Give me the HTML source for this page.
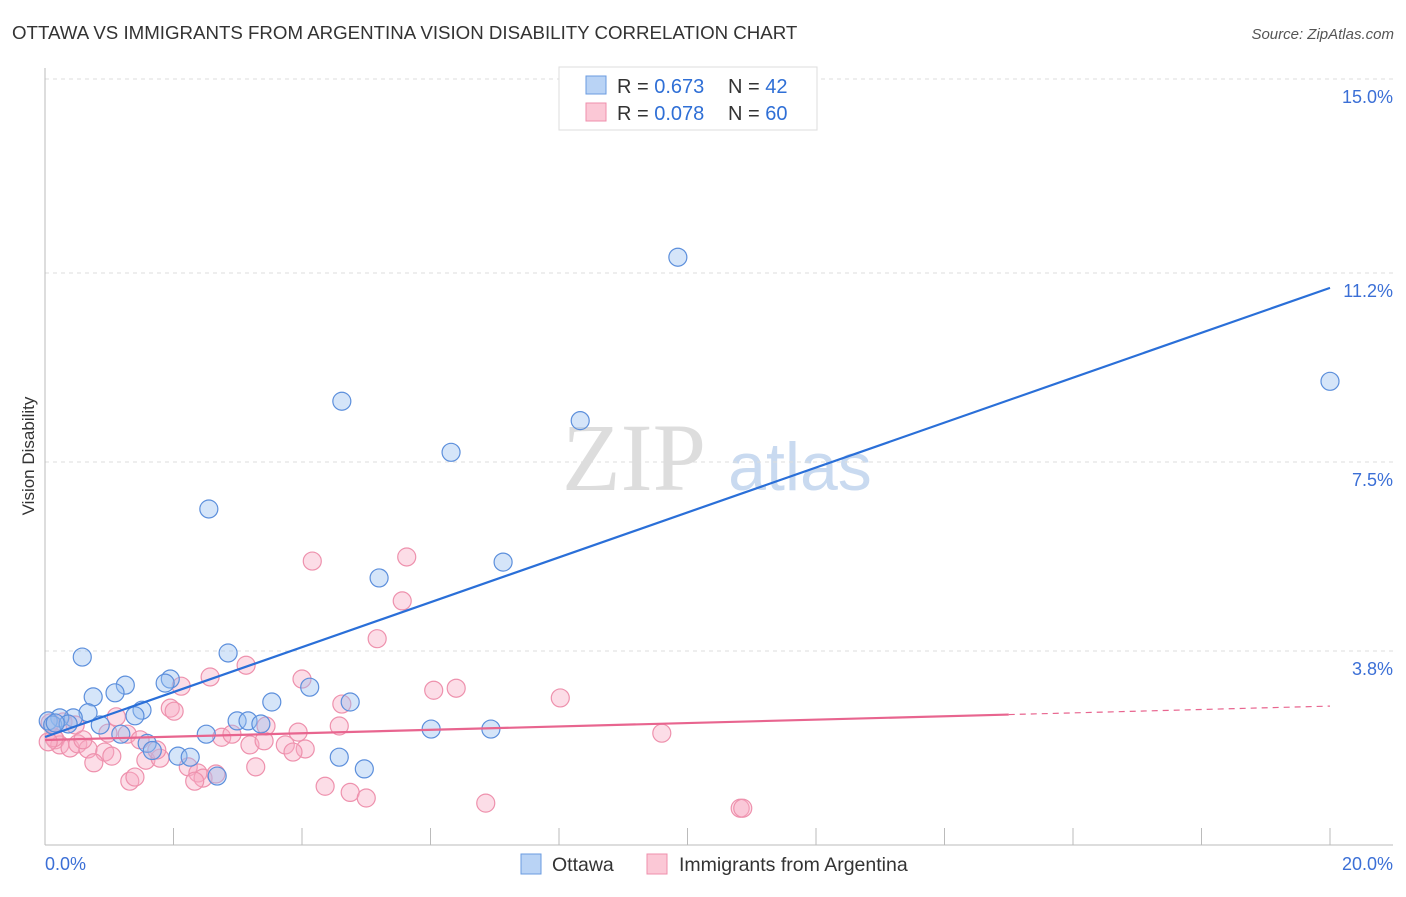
<!DOCTYPE html>
<html><head><meta charset="utf-8"><style>
body{margin:0;background:#fff;font-family:"Liberation Sans",sans-serif;}
svg text{font-family:"Liberation Sans",sans-serif;}
</style></head><body>
<svg width="1406" height="892" viewBox="0 0 1406 892">
<text x="12" y="39" font-size="18.7" fill="#333">OTTAWA VS IMMIGRANTS FROM ARGENTINA VISION DISABILITY CORRELATION CHART</text>
<text x="1394" y="39" font-size="15" fill="#555" font-style="italic" text-anchor="end">Source: ZipAtlas.com</text>
<text x="34" y="456" font-size="17" fill="#333" text-anchor="middle" transform="rotate(-90 34 456)">Vision Disability</text>
<text x="634" y="490" font-size="96" fill="#ddd" style="font-family:'Liberation Serif',serif" text-anchor="middle">ZIP</text>
<text x="800" y="490" font-size="68" fill="#c9daf0" text-anchor="middle">atlas</text>
<g id="grid"></g>
<g id="axes"></g>
<g id="pts"></g>
<g id="lines"></g>
<g>
<rect x="559" y="67" width="258" height="63" fill="#fff" stroke="#ddd"/>
<rect x="586" y="76" width="20" height="18" fill="#b9d3f5" stroke="#6a9be0"/>
<rect x="586" y="103" width="20" height="18" fill="#fbc8d6" stroke="#ef8fac"/>
<text x="617" y="93" font-size="20" fill="#333">R = <tspan fill="#2f6fd6">0.673</tspan></text>
<text x="728" y="93" font-size="20" fill="#333">N = <tspan fill="#2f6fd6">42</tspan></text>
<text x="617" y="120" font-size="20" fill="#333">R = <tspan fill="#2f6fd6">0.078</tspan></text>
<text x="728" y="120" font-size="20" fill="#333">N = <tspan fill="#2f6fd6">60</tspan></text>
</g>
<g>
<rect x="521" y="854" width="20" height="20" fill="#b9d3f5" stroke="#6a9be0"/>
<text x="552" y="871" font-size="19.5" fill="#333">Ottawa</text>
<rect x="647" y="854" width="20" height="20" fill="#fbc8d6" stroke="#ef8fac"/>
<text x="679" y="871" font-size="19.5" fill="#333">Immigrants from Argentina</text>
</g>
</svg>
<script>
const yTicks=[15.0,11.2,7.5,3.8];
const yTickLabels=["15.0%","11.2%","7.5%","3.8%"];
const xTickLabels=["0.0%","20.0%"];
const ottawaX=[9.85,20,4.62,6.32,8.33,2.55,5.2,7.13,0.58,2.85,1.25,1.95,1.87,0.75,1.09,4.12,3.53,4.75,1.51,0.67,0.44,0.23,0.05,0.12,0.36,0.86,1.18,2.51,2.99,3.16,3.36,6.01,6.94,1.59,1.67,2.07,2.26,4.58,4.97,2.68,0.16,1.4];
const ottawaY=[11.51,9.08,8.69,7.69,8.31,6.58,5.23,5.54,3.68,3.76,3.13,3.25,3.17,2.9,2.98,3.09,2.8,2.8,2.64,2.59,2.49,2.49,2.43,2.35,2.37,2.35,2.17,2.17,2.43,2.43,2.37,2.27,2.27,1.99,1.85,1.74,1.72,1.72,1.49,1.35,2.39,2.53];
const argX=[4.16,5.63,5.56,5.17,3.13,2.57,4.0,2.12,6.05,6.4,8.02,4.62,1.95,2.01,1.11,0.28,0.08,0.98,1.28,0.16,0.23,0.39,0.51,0.67,0.93,0.59,2.75,2.91,3.19,3.41,3.94,4.58,3.74,4.05,3.86,1.48,1.57,1.79,2.23,0.76,1.04,3.28,2.38,2.46,2.66,2.33,1.32,1.4,4.36,4.75,5.0,6.86,9.6,10.82,10.86,0.14,0.05,0.47,3.44,1.74];
const argY=[5.56,5.64,4.78,4.04,3.52,3.29,3.25,3.11,3.03,3.07,2.88,2.76,2.68,2.62,2.51,2.41,2.39,2.19,2.17,2.06,1.96,1.9,1.98,1.88,1.82,2.06,2.11,2.17,1.96,2.04,2.21,2.33,1.96,1.88,1.82,2.06,1.66,1.7,1.53,1.61,1.74,1.53,1.41,1.31,1.39,1.25,1.25,1.33,1.15,1.03,0.92,0.82,2.19,0.72,0.72,2.1,2.02,2.35,2.33,1.86];
const ottawaFit=[2.115,10.91];
const argFit=[2.056,2.72];
const NS='http://www.w3.org/2000/svg';
const sx=v=>45+v/20*1285, sy=v=>845-v/15*766;
function mk(tag,at,parent){const e=document.createElementNS(NS,tag);for(const k in at)e.setAttribute(k,at[k]);document.getElementById(parent).appendChild(e);return e;}
yTicks.forEach((t,i)=>{
 const g=mk('line',{x1:45,x2:1393,y1:sy(t),y2:sy(t),stroke:'#ddd','stroke-dasharray':'4,4'},'grid');
 
 
 const tx=mk('text',{x:1393,y:sy(t)+24,'font-size':18,fill:'#3b6fd6','text-anchor':'end'},'grid');
 tx.textContent=yTickLabels[i];
 
 
});
for(let i=0;i<=10;i++){
 const l=mk('line',{x1:sx(i*2),x2:sx(i*2),y1:828,y2:845,stroke:'#bbb'},'axes');
 
 
}
let a=mk('line',{x1:45,x2:45,y1:68,y2:845,stroke:'#bbb'},'axes');


a=mk('line',{x1:45,x2:1393,y1:845,y2:845,stroke:'#bbb'},'axes');


let t=mk('text',{x:45,y:870,'font-size':18,fill:'#3b6fd6'},'axes');t.textContent=xTickLabels[0];


t=mk('text',{x:1393,y:870,'font-size':18,fill:'#3b6fd6','text-anchor':'end'},'axes');t.textContent=xTickLabels[1];


argX.forEach((x,i)=>{
 const c=mk('circle',{cx:sx(x),cy:sy(argY[i]),r:9,fill:'rgba(248,170,195,0.4)',stroke:'#ee91ad','stroke-width':1.2},'pts');
 
 
});
ottawaX.forEach((x,i)=>{
 const c=mk('circle',{cx:sx(x),cy:sy(ottawaY[i]),r:9,fill:'rgba(150,190,240,0.4)',stroke:'#5c8fdc','stroke-width':1.2},'pts');
 
 
});
let l=mk('line',{x1:sx(0),y1:sy(ottawaFit[0]),x2:sx(20),y2:sy(ottawaFit[1]),stroke:'#2a6fd8','stroke-width':2.2},'lines');


const ay=x=>argFit[0]+(argFit[1]-argFit[0])*x/20;
l=mk('line',{x1:sx(0),y1:sy(ay(0)),x2:sx(15),y2:sy(ay(15)),stroke:'#e8658f','stroke-width':2.2},'lines');


l=mk('line',{x1:sx(15),y1:sy(ay(15)),x2:sx(20),y2:sy(ay(20)),stroke:'#e8658f','stroke-width':1.2,'stroke-dasharray':'6,5'},'lines');


</script>
</body></html>
